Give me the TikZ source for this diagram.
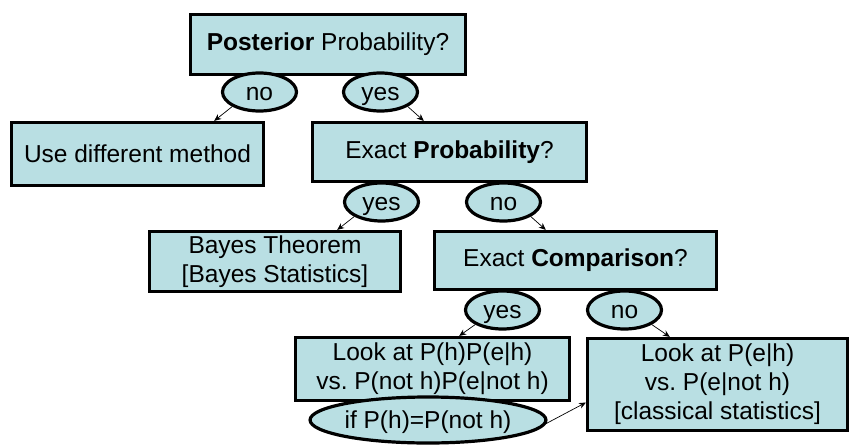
\documentclass[tikz,border=0pt]{standalone}
\usepackage{fontspec}
\setmainfont{Liberation Sans}
\usepackage{tikz}
\usetikzlibrary{shapes.geometric, positioning, arrows.meta, calc}
\definecolor{boxfill}{RGB}{185,223,227}
\frenchspacing
\tikzset{
  decision/.style={
	x=1pt, y=-1pt, % work in pixel-like units, y going down
	font=\fontsize{24.5}{29}\selectfont,
	every node/.style={fill=boxfill, draw=black, line width=3.2pt, align=center, inner sep=0pt},
	qbox/.style={rectangle}, % question and result boxes
	answer/.style={ellipse, minimum width=74pt, minimum height=38pt, text height=17.5pt, text depth=0pt}, % yes / no labels
	link/.style={-{Stealth[length=7pt,width=6pt]}, line width=0.7pt}, % thin arrows from answers to boxes
  }
}
\begin{document}
\begin{tikzpicture}[decision]
	  \useasboundingbox (0,0) rectangle (851,447);
	  % questions and results
	  \node[qbox, minimum width=275pt, minimum height=60pt] (post) at (328,44.5) {{\bfseries Posterior} Probability?};
	  \node[qbox, minimum width=252pt, minimum height=63pt] (use) at (137.5,154) {Use different method};
	  \node[qbox, minimum width=274pt, minimum height=59pt] (prob) at (449.5,152) {Exact {\bfseries Probability}?};
	  \node[qbox, minimum width=251pt, minimum height=60pt] (bayes) at (275,261.5) {Bayes Theorem\\{[Bayes Statistics]}};
	  \node[qbox, minimum width=282pt, minimum height=58pt] (comp) at (575.5,260.5) {Exact {\bfseries Comparison}?};
	  \node[qbox, minimum width=274pt, minimum height=63pt] (look1) at (432.5,369) {Look at P(h)P(e|h)\\vs. P(not h)P(e|not h)};
	  \node[qbox, minimum width=260pt, minimum height=92pt] (look2) at (717.5,384.5) {Look at P(e|h)\\vs. P(e|not h)\\{[classical statistics]}};
	  % answers
	  \node[answer] (no1) at (259.5,92) {no};
	  \node[answer] (yes1) at (380.5,92) {yes};
	  \node[answer] (yes2) at (381.5,202) {yes};
	  \node[answer] (no2) at (503.5,202) {no};
	  \node[answer] (yes3) at (502.5,310) {yes};
	  \node[answer] (no3) at (624.5,310) {no};
	  \node[answer, minimum width=222pt, minimum height=46pt] (cond) at (428,420) {if P(h)=P(not h)};
	  \path[link] (no1.south west) edge ([xshift=-18pt]no1.south west |- use.north)
		  (yes1.south east) edge ([xshift=16pt]yes1.south east |- prob.north)
		  (yes2.south west) edge ([xshift=-17pt]yes2.south west |- bayes.north)
		  (no2.south east) edge ([xshift=15pt]no2.south east |- comp.north)
		  (yes3.south west) edge ([xshift=-16pt]yes3.south west |- look1.north)
		  (no3.south east) edge ([xshift=18pt]no3.south east |- look2.north)
		  (cond.-8) edge ([yshift=-18pt]look2.west)
	  ;
	  \end{tikzpicture}
\end{document}
